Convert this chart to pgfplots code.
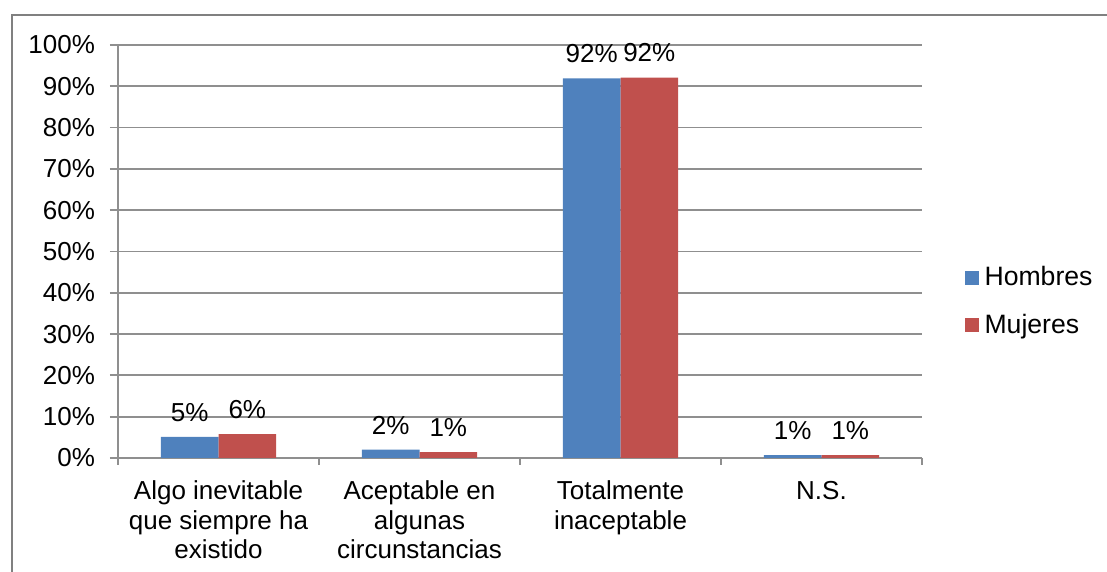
\documentclass[border=0pt]{standalone}
\usepackage{fontspec}
\setmainfont{Liberation Sans}
\usepackage{pgfplots}
\pgfplotsset{compat=1.18}

\definecolor{hom}{HTML}{4F81BD}
\definecolor{muj}{HTML}{C0504D}
\definecolor{gridc}{HTML}{8F8F8F}
\definecolor{framec}{HTML}{808080}

\begin{document}
\begin{tikzpicture}[x=1pt,y=1pt]
\begin{axis}[
    at={(59pt,57pt)}, anchor=south west,
    scale only axis,
    width=402pt, height=206.5pt,
    ybar=0pt,
    bar width=28.8pt,
    xmin=-0.5, xmax=3.5,
    ymin=0, ymax=100,
    xtick={0,1,2,3},
    xticklabels={{Algo inevitable\\que siempre ha\\existido},
                 {Aceptable en\\algunas\\circunstancias},
                 {Totalmente\\inaceptable},
                 {N.S.}},
    minor xtick={-0.5,0.5,1.5,2.5,3.5},
    major x tick style={draw=none},
    minor x tick style={draw=gridc, line width=0.9pt},
    minor tick length=3.5pt,
    ytick={0,10,...,100},
    yticklabel={\pgfmathprintnumber{\tick}\%},
    major tick length=4pt,
    y tick style={draw=gridc, line width=0.9pt},
    tick align=outside,
    axis x line*=bottom,
    axis y line*=left,
    axis line style={draw=gridc, line width=0.9pt, -},
    ymajorgrids,
    grid style={draw=gridc, line width=0.9pt},
    /pgf/number format/assume math mode=true,
    tick label style={font=\fontsize{13}{14.75}\selectfont, text=black},
    xticklabel style={align=center, yshift=-4pt},
    yticklabel style={xshift=-4pt},
    nodes near coords={\pgfmathprintnumber[fixed,precision=0,assume math mode=true]{\pgfplotspointmeta}\%},
    every node near coord/.append style={font=\fontsize{13}{14.75}\selectfont, text=black, anchor=south, inner sep=0pt, yshift=7.5pt},
    legend style={at={(1.045,0.379)}, anchor=west, draw=none, fill=none,
        font=\fontsize{13.3}{15}\selectfont, row sep=12.5pt,
        nodes={inner sep=0pt, text=black}},
    legend cell align=left,
    legend image code/.code={\fill[#1] (0pt,-3.5pt) rectangle (7pt,3.5pt);},
    clip=false,
]
\addplot[fill=hom, draw=none] coordinates {(0,5.1) (1,2.0) (2,91.9) (3,0.7)};
\addplot[fill=muj, draw=none] coordinates {(0,5.8) (1,1.4) (2,92.1) (3,0.7)};
\legend{\hspace{3pt}Hombres, \hspace{3pt}Mujeres}
\end{axis}
\draw[framec, line width=1.1pt] (6pt,-5pt) -- (6pt,278.5pt) -- (560pt,278.5pt);
\pgfresetboundingbox
\useasboundingbox (0,0) rectangle (553.5pt,286pt);
\end{tikzpicture}
\end{document}
